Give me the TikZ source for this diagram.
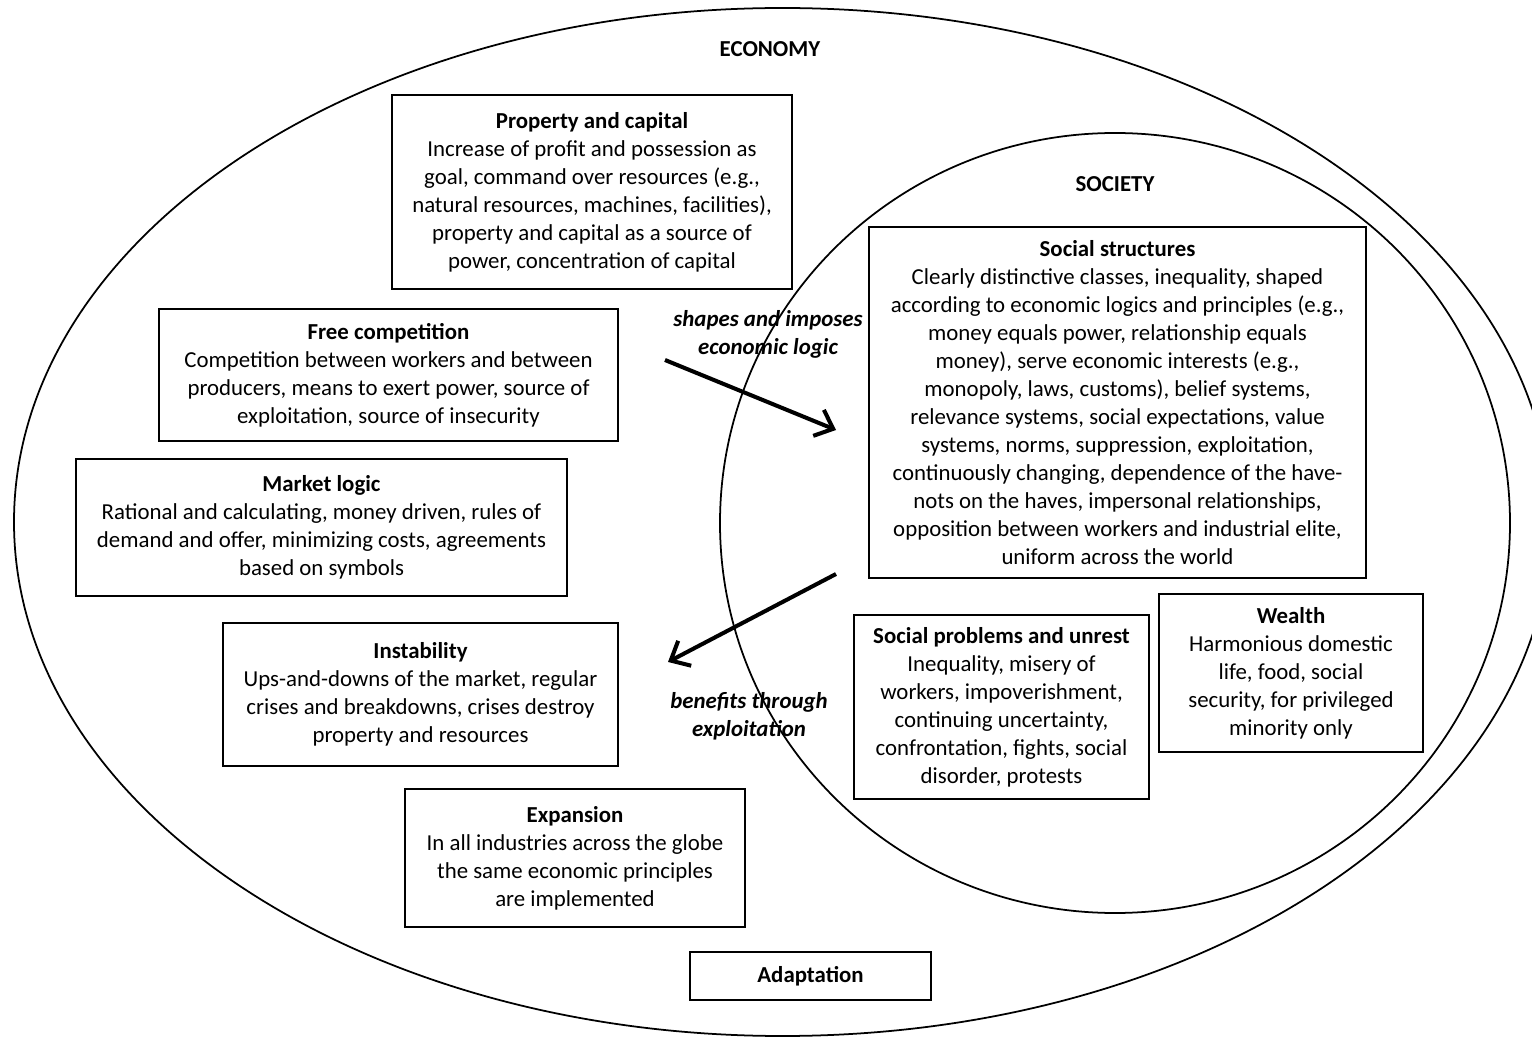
\documentclass[tikz,border=0pt]{standalone}
\usepackage{fontspec}
\setmainfont{Carlito}
\usetikzlibrary{arrows.meta}
\tikzset{
	box/.style={draw=black, line width=1.1pt, align=center, inner sep=2pt, font=\fontsize{13}{15.9}\selectfont},
	title/.style={font=\fontsize{13}{15.9}\selectfont\bfseries},
	verb/.style={align=center, font=\fontsize{13}{15.9}\selectfont\bfseries\itshape},
	push/.style={line width=2.3pt, -{Straight Barb[length=9pt,width=16pt,line width=2.3pt]}}
}
\begin{document}
\begin{tikzpicture}
		\useasboundingbox (0,0) rectangle (30.64,20.74);
		\clip (0,0) rectangle (30.64,20.74);
		\draw[line width=1pt] (15.65,10.3) ellipse (15.37cm and 10.28cm);
		\draw[line width=1pt] (22.3,10.28) ellipse (7.9cm and 7.8cm);
		\node[title] (eco) at (15.4,19.76) {ECONOMY};
		\node[title] (soc) at (22.3,17.06) {SOCIETY};
		\node[box, minimum width=8cm, minimum height=3.88cm] (prop) at (11.84,16.9) {\textbf{Property and capital}\\Increase of profit and possession as\\goal, command over resources (e.g.,\\natural resources, machines, facilities),\\property and capital as a source of\\power, concentration of capital};
		\node[box, minimum width=9.18cm, minimum height=2.64cm] (comp) at (7.77,13.24) {\textbf{Free competition}\\Competition between workers and between\\producers, means to exert power, source of\\exploitation, source of insecurity};
		\node[box, minimum width=9.82cm, minimum height=2.74cm] (market) at (6.43,10.19) {\textbf{Market logic}\\Rational and calculating, money driven, rules of\\demand and offer, minimizing costs, agreements\\based on symbols};
		\node[box, minimum width=7.9cm, minimum height=2.86cm] (instab) at (8.41,6.85) {\textbf{Instability}\\Ups-and-downs of the market, regular\\crises and breakdowns, crises destroy\\property and resources};
		\node[box, minimum width=6.8cm, minimum height=2.76cm] (expan) at (11.5,3.58) {\textbf{Expansion}\\In all industries across the globe\\the same economic principles\\are implemented};
		\node[box, minimum width=4.82cm, minimum height=0.96cm] (adapt) at (16.21,1.22) {\textbf{Adaptation}};
		\node[box, minimum width=9.94cm, minimum height=7.02cm] (struct) at (22.35,12.69) {\textbf{Social structures}\\Clearly distinctive classes, inequality, shaped\\according to economic logics and principles (e.g.,\\money equals power, relationship equals\\money), serve economic interests (e.g.,\\monopoly, laws, customs), belief systems,\\relevance systems, social expectations, value\\systems, norms, suppression, exploitation,\\continuously changing, dependence of the have-\\nots on the haves, impersonal relationships,\\opposition between workers and industrial elite,\\uniform across the world};
		\node[box, minimum width=5.9cm, minimum height=3.68cm] (probl) at (20.03,6.6) {\textbf{Social problems and unrest}\\Inequality, misery of\\workers, impoverishment,\\continuing uncertainty,\\confrontation, fights, social\\disorder, protests};
		\node[box, minimum width=5.28cm, minimum height=3.16cm] (wealth) at (25.82,7.28) {\textbf{Wealth}\\Harmonious domestic\\life, food, social\\security, for privileged\\minority only};
		\node[verb] (shapes) at (15.36,14.06) {shapes and imposes\\economic logic};
		\node[verb] (benefits) at (14.98,6.42) {benefits through\\exploitation};
		\coordinate (a1) at (13.3,13.54);
		\coordinate (a2) at (16.72,12.14);
		\coordinate (b1) at (16.72,9.26);
		\coordinate (b2) at (13.36,7.5);
		\draw[push] (a1) -- (a2);
		\draw[push] (b1) -- (b2);
	\end{tikzpicture}
\end{document}
